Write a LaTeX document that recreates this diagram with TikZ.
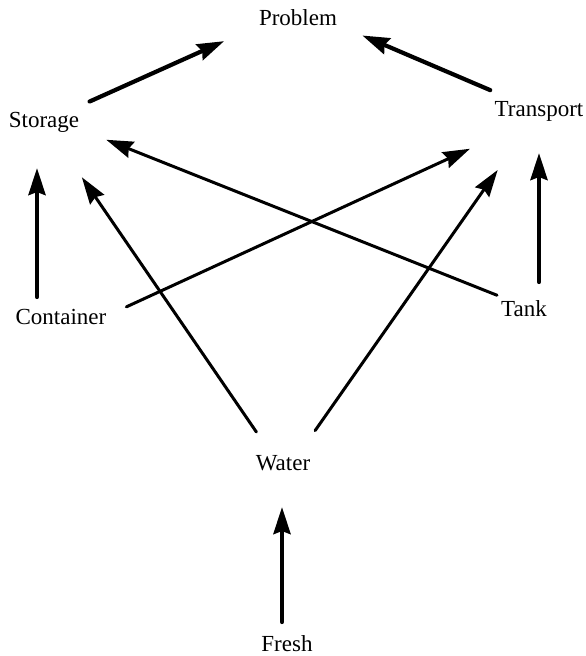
\documentclass[tikz,border=0pt]{standalone}
\usepackage{fontspec}
\setmainfont{Liberation Serif}
\usetikzlibrary{arrows.meta}

\begin{document}
\begin{tikzpicture}[x=1pt, y=-1pt,
    word/.style={inner sep=0pt, text height=16pt, text depth=5pt, font=\fontsize{23}{27}\selectfont},
    bigarrow/.style={-{Stealth[length=27pt, width=17pt, inset=3pt]}, line width=4.2pt, line cap=round},
    thinarrow/.style={bigarrow, line width=3pt}]
  \useasboundingbox (0,0) rectangle (586,656);
  % the words
  \node[word] (problem) at (298,20) {Problem};
  \node[word] (storage) at (44,122) {Storage};
  \node[word] (transport) at (539,111) {Transport};
  \node[word] (container) at (61,319) {Container};
  \node[word] (tank) at (524,311) {Tank};
  \node[word] (water) at (283,465) {Water};
  \node[word] (fresh) at (287,646) {Fresh};

  % top level
  \draw[bigarrow, shorten <=50pt, shorten >=81pt] (storage.center) -- ([yshift=12pt]problem.center);
  \draw[bigarrow, shorten <=53pt, shorten >=70pt] (transport.center) -- ([yshift=12pt]problem.center);
  % straight up
  \draw[bigarrow, shorten <=22pt, shorten >=46pt] ([xshift=-24pt]container.center) -- ([xshift=-7pt]storage.center);
  \draw[bigarrow, shorten <=29pt, shorten >=42pt] ([xshift=15pt]tank.center) -- (transport.center);
  \draw[bigarrow, shorten <=24pt, shorten >=42pt] ([xshift=-5pt]fresh.center) -- ([xshift=-1pt]water.center);
  % crossing ones
  \draw[thinarrow, shorten <=29pt, shorten >=67pt] ([yshift=5pt]tank.center) -- ([yshift=7pt]storage.center);
  \draw[thinarrow, shorten <=29pt, shorten >=76pt] ([xshift=39pt]container.center) -- ([yshift=-6pt]transport.center);
  \draw[thinarrow, shorten <=40pt, shorten >=67pt] ([xshift=-4pt]water.center) -- (storage.center);
  \draw[thinarrow, shorten <=42pt, shorten >=72pt] ([xshift=8pt]water.center) -- (transport.center);
\end{tikzpicture}
\end{document}
